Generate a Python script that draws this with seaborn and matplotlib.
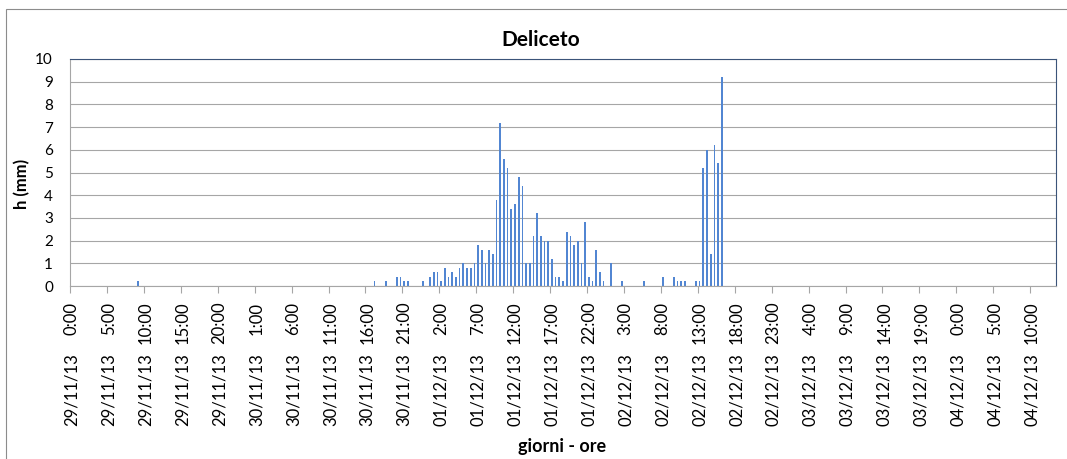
import numpy as np
import pandas as pd
import matplotlib
matplotlib.use("Agg")
import matplotlib.pyplot as plt
from matplotlib.patches import Rectangle
import seaborn as sns

# Half-hourly rainfall at the Deliceto gauge, 29/11/2013 - 04/12/2013
start_time = "2013-11-29 00:00"
n_slots = 267

rain_times = [
    "2013-11-29 09:00",
    "2013-11-30 17:00", "2013-11-30 18:30", "2013-11-30 20:00", "2013-11-30 20:30",
    "2013-11-30 21:00", "2013-11-30 21:30", "2013-11-30 23:30",
    "2013-12-01 00:30", "2013-12-01 01:00", "2013-12-01 01:30", "2013-12-01 02:00",
    "2013-12-01 02:30", "2013-12-01 03:00", "2013-12-01 03:30", "2013-12-01 04:00",
    "2013-12-01 04:30", "2013-12-01 05:00", "2013-12-01 05:30", "2013-12-01 06:00",
    "2013-12-01 06:30", "2013-12-01 07:00", "2013-12-01 07:30", "2013-12-01 08:00",
    "2013-12-01 08:30", "2013-12-01 09:00", "2013-12-01 09:30", "2013-12-01 10:00",
    "2013-12-01 10:30", "2013-12-01 11:00", "2013-12-01 11:30", "2013-12-01 12:00",
    "2013-12-01 12:30", "2013-12-01 13:00", "2013-12-01 13:30", "2013-12-01 14:00",
    "2013-12-01 14:30", "2013-12-01 15:00", "2013-12-01 15:30", "2013-12-01 16:00",
    "2013-12-01 16:30", "2013-12-01 17:00", "2013-12-01 17:30", "2013-12-01 18:00",
    "2013-12-01 18:30", "2013-12-01 19:00", "2013-12-01 19:30", "2013-12-01 20:00",
    "2013-12-01 20:30", "2013-12-01 21:00", "2013-12-01 21:30", "2013-12-01 22:00",
    "2013-12-01 22:30", "2013-12-01 23:00", "2013-12-01 23:30",
    "2013-12-02 00:00", "2013-12-02 01:00", "2013-12-02 02:30", "2013-12-02 05:30",
    "2013-12-02 08:00", "2013-12-02 09:30", "2013-12-02 10:00", "2013-12-02 10:30",
    "2013-12-02 11:00", "2013-12-02 12:30", "2013-12-02 13:00", "2013-12-02 13:30",
    "2013-12-02 14:00", "2013-12-02 14:30", "2013-12-02 15:00", "2013-12-02 15:30",
    "2013-12-02 16:00",
]
rain_mm = [
    0.2,
    0.2, 0.2, 0.4, 0.4,
    0.2, 0.2, 0.2,
    0.4, 0.6, 0.6, 0.2,
    0.8, 0.4, 0.6, 0.4,
    0.8, 1.0, 0.8, 0.8,
    1.0, 1.8, 1.6, 1.0,
    1.6, 1.4, 3.8, 7.2,
    5.6, 5.2, 3.4, 3.6,
    4.8, 4.4, 1.0, 1.0,
    2.2, 3.2, 2.2, 2.0,
    2.0, 1.2, 0.4, 0.4,
    0.2, 2.4, 2.2, 1.8,
    2.0, 1.0, 2.8, 0.4,
    0.2, 1.6, 0.6,
    0.2, 1.0, 0.2, 0.2,
    0.4, 0.4, 0.2, 0.2,
    0.2, 0.2, 0.2, 5.2,
    6.0, 1.4, 6.2, 5.4,
    9.2,
]

y_ticks = [0, 1, 2, 3, 4, 5, 6, 7, 8, 9, 10]
label_every = 10

BAR = "#5286D2"
GRID = "#A6A6A6"
FRAME = "#3B5479"
TEXT = "#000000"

slots = pd.date_range(start_time, periods=n_slots, freq="30min")
series = pd.Series(0.0, index=slots)
series.loc[pd.to_datetime(rain_times)] = rain_mm
df = pd.DataFrame({"slot": np.arange(n_slots), "h": series.values})

sns.set_style("white")
plt.rcParams["font.family"] = ["Lato", "DejaVu Sans"]

W, H = 1067, 459
fig = plt.figure(figsize=(W / 100, H / 100), dpi=100)
ax = fig.add_axes([70 / W, 1 - 286 / H, (1056 - 70) / W, (286 - 59) / H])

sns.barplot(data=df, x="slot", y="h", color=BAR, saturation=1, width=0.45,
            errorbar=None, linewidth=0, ax=ax)

ax.set_xlim(-0.5, n_slots - 0.5)
ax.set_ylim(0, 10)
ax.set_yticks(y_ticks)
ax.set_yticklabels([str(v) for v in y_ticks])
ax.set_xlabel("")
ax.set_ylabel("")

ax.yaxis.grid(True, color=GRID, linewidth=0.8)
ax.xaxis.grid(False)
ax.set_axisbelow(True)

for side in ("left", "bottom"):
    ax.spines[side].set_color(GRID)
    ax.spines[side].set_linewidth(0.8)
for side in ("top", "right"):
    ax.spines[side].set_color(FRAME)
    ax.spines[side].set_linewidth(0.8)

# Time labels sit on the category; tick marks sit on category boundaries
label_slots = np.arange(0, n_slots, label_every)
label_stamps = slots[label_slots]
time_labels = [f"{t.hour}:{t.minute:02d}" for t in label_stamps]
date_labels = [t.strftime("%d/%m/%y") for t in label_stamps]

ax.set_xticks(label_slots)
ax.set_xticklabels(time_labels, rotation=90, ha="center", va="top",
                   fontsize=12, color=TEXT)
ax.set_xticks(label_slots - 0.5, minor=True)
ax.tick_params(axis="x", which="major", length=0, pad=11.3)
ax.tick_params(axis="x", which="minor", length=4.8, width=0.8, color=GRID,
               direction="out", bottom=True)
ax.tick_params(axis="y", length=0, pad=12.3, labelsize=11, labelcolor=TEXT)

for s, d in zip(label_slots, date_labels):
    ax.annotate(d, xy=(s, 0), xycoords=("data", "axes fraction"),
                xytext=(0, -48.5), textcoords="offset points",
                rotation=90, ha="center", va="top", fontsize=12, color=TEXT)

fig.text(541 / W, 1 - 40 / H, "Deliceto", ha="center", va="center",
         fontsize=15, fontweight="bold", color=TEXT)
fig.text(21.7 / W, 1 - 184 / H, "h (mm)", rotation=90, ha="center",
         va="center", fontsize=12, fontweight="bold", color=TEXT)
fig.text(562 / W, 1 - 452 / H, "giorni - ore", ha="center", va="baseline",
         fontsize=13, fontweight="bold", color=TEXT)

# Chart area outline
fig.patches.append(Rectangle((6 / W, -0.1), 1.2, 1 - 9 / H + 0.1,
                             transform=fig.transFigure, fill=False,
                             edgecolor="#8C8C8C", linewidth=0.8))

fig.savefig("out.png", dpi=100)
